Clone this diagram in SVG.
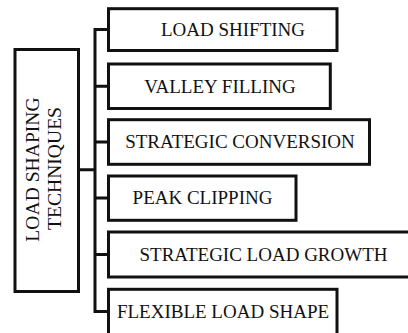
<svg xmlns="http://www.w3.org/2000/svg" width="408" height="333" viewBox="0 0 408 333">
<style>
.box{fill:#fff;stroke:#111;stroke-width:3}
.con{fill:none;stroke:#111;stroke-width:3;stroke-linejoin:miter}
.t{font-family:"Liberation Serif","Times New Roman",serif;font-size:19px;fill:#111;text-anchor:middle}
.v{font-size:19.6px}
</style>
<rect width="408" height="333" fill="#fff"/>
<g id="connectors">
<path class="con" d="M108.5,29.6 H95 V311.4 H108.5"/>
<path class="con" d="M95,86.3 H108.5 M95,142 H108.5 M95,198 H108.5 M95,254.5 H108.5 M78.5,169.7 H95"/>
</g>
<g id="root">
<rect class="box" x="15" y="49.5" width="63.5" height="242"/>
<text class="t v" transform="translate(39,169.5) rotate(-90)" x="0" y="0">LOAD SHAPING</text>
<text class="t v" transform="translate(61,168.5) rotate(-90)" x="0" y="0">TECHNIQUES</text>
</g>
<g id="n1">
<rect class="box" x="108.5" y="8.7" width="228.5" height="41.8"/>
<text class="t" x="233" y="36">LOAD SHIFTING</text>
</g>
<g id="n2">
<rect class="box" x="108.5" y="64" width="221.8" height="44.5"/>
<text class="t" x="220" y="92.5">VALLEY FILLING</text>
</g>
<g id="n3">
<rect class="box" x="108.5" y="119.7" width="261" height="44.6"/>
<text class="t" x="240" y="148.3">STRATEGIC CONVERSION</text>
</g>
<g id="n4">
<rect class="box" x="108.5" y="176" width="187.5" height="44.3"/>
<text class="t" x="202.5" y="204.3">PEAK CLIPPING</text>
</g>
<g id="n5">
<rect class="box" x="108.5" y="232" width="312" height="45"/>
<text class="t" x="263.5" y="260.8">STRATEGIC LOAD GROWTH</text>
</g>
<g id="n6">
<rect class="box" x="108.5" y="289.3" width="228.5" height="46"/>
<text class="t" x="223" y="317.6">FLEXIBLE LOAD SHAPE</text>
</g>
</svg>
